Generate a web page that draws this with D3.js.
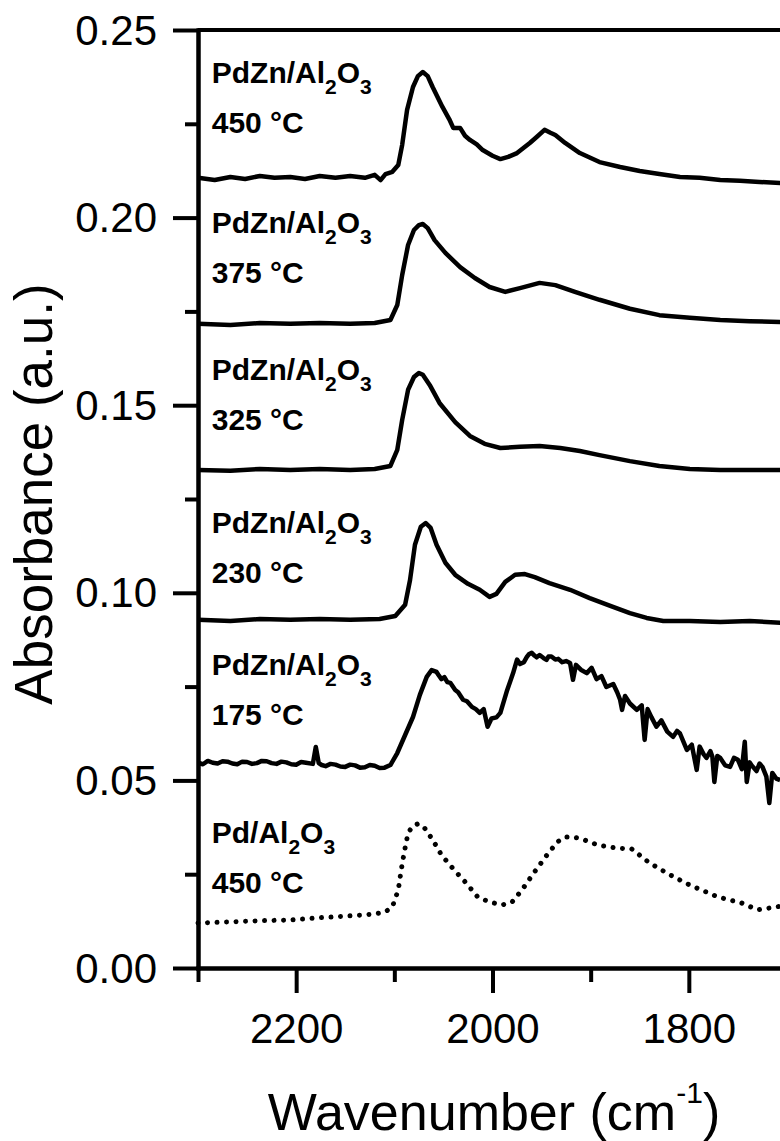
<!DOCTYPE html>
<html>
<head>
<meta charset="utf-8">
<script src="https://cdn.jsdelivr.net/npm/d3@7"></script>
<style>
	body { margin: 0; background: #fff; }
	svg { display: block; }
	text { font-family: "Liberation Sans", Arial, sans-serif; fill: #000; }
</style>
</head>
<body>
<svg id="chart" width="780" height="1141"></svg>
<script>
// === Data ===
const wnMajor = [2200, 2000, 1800];
const wnMinor = [2300, 2100, 1900, 1700];
const absMajor = [0, 0.05, 0.10, 0.15, 0.20, 0.25];
const absMinor = [0.025, 0.075, 0.125, 0.175, 0.225];

// [wavenumber, absorbance]
const pdzn450 = [[2300,0.2106],[2283,0.2100],[2267,0.2108],[2252,0.2103],[2237,0.2111],[2222,0.2106],[2206,0.2108],[2191,0.2103],[2176,0.2111],[2160,0.2106],[2145,0.2111],[2130,0.2106],[2120,0.2114],[2114,0.2100],[2109,0.2116],[2102,0.2122],[2096,0.2140],[2092,0.2194],[2087,0.2287],[2081,0.2348],[2076,0.2377],[2071,0.2388],[2066,0.2377],[2061,0.2348],[2051,0.2295],[2044,0.2262],[2040,0.2239],[2033,0.2239],[2028,0.2218],[2023,0.2207],[2016,0.2195],[2010,0.2180],[2000,0.2165],[1992,0.2156],[1984,0.2162],[1975,0.2172],[1962,0.2199],[1955,0.2215],[1947,0.2234],[1941,0.2226],[1936,0.2220],[1926,0.2199],[1911,0.2172],[1891,0.2148],[1870,0.2135],[1850,0.2124],[1830,0.2116],[1809,0.2108],[1789,0.2106],[1768,0.2100],[1748,0.2098],[1728,0.2095],[1707,0.2092]];

const pdzn375 = [[2300,0.1717],[2267,0.1714],[2237,0.1719],[2206,0.1717],[2176,0.1719],[2145,0.1717],[2120,0.1719],[2104,0.1727],[2097,0.1767],[2092,0.1847],[2086,0.1927],[2080,0.1967],[2075,0.1980],[2071,0.1983],[2066,0.1972],[2059,0.1940],[2048,0.1906],[2033,0.1868],[2018,0.1839],[2003,0.1815],[1987,0.1802],[1972,0.1812],[1952,0.1826],[1936,0.1820],[1916,0.1802],[1891,0.1781],[1860,0.1757],[1830,0.1740],[1799,0.1733],[1768,0.1727],[1738,0.1724],[1707,0.1722]];

const pdzn325 = [[2300,0.1327],[2267,0.1325],[2237,0.1330],[2206,0.1327],[2176,0.1330],[2145,0.1327],[2120,0.1330],[2104,0.1338],[2097,0.1381],[2092,0.1461],[2086,0.1541],[2080,0.1575],[2075,0.1586],[2071,0.1581],[2064,0.1554],[2054,0.1506],[2038,0.1455],[2023,0.1418],[2008,0.1397],[1992,0.1386],[1972,0.1389],[1952,0.1391],[1931,0.1386],[1911,0.1378],[1891,0.1367],[1860,0.1351],[1830,0.1338],[1799,0.1330],[1768,0.1327],[1738,0.1327],[1707,0.1327]];

const pdzn230 = [[2300,0.0928],[2267,0.0925],[2237,0.0930],[2206,0.0928],[2176,0.0930],[2145,0.0928],[2115,0.0930],[2099,0.0938],[2089,0.0968],[2084,0.1034],[2079,0.1128],[2073,0.1176],[2068,0.1186],[2063,0.1173],[2057,0.1128],[2048,0.1080],[2038,0.1048],[2025,0.1024],[2013,0.1008],[2003,0.0989],[1996,0.0997],[1987,0.1029],[1977,0.1048],[1967,0.1050],[1957,0.1042],[1942,0.1026],[1921,0.1008],[1901,0.0986],[1880,0.0965],[1860,0.0946],[1843,0.0933],[1826,0.0925],[1799,0.0925],[1768,0.0922],[1738,0.0925],[1707,0.0920]];

const pdzn175 = [[2300,0.0547],[2295,0.0543],[2290,0.0552],[2285,0.0547],[2280,0.0545],[2275,0.0551],[2270,0.0550],[2265,0.0545],[2260,0.0543],[2255,0.0550],[2250,0.0549],[2245,0.0544],[2240,0.0546],[2235,0.0552],[2230,0.0551],[2225,0.0546],[2220,0.0544],[2215,0.0550],[2210,0.0548],[2205,0.0543],[2200,0.0542],[2195,0.0549],[2190,0.0547],[2183,0.0544],[2180,0.0589],[2177,0.0546],[2174,0.0541],[2170,0.0538],[2165,0.0544],[2160,0.0542],[2155,0.0537],[2150,0.0536],[2145,0.0542],[2140,0.0540],[2135,0.0534],[2130,0.0535],[2125,0.0541],[2120,0.0539],[2115,0.0533],[2110,0.0534],[2104,0.0541],[2097,0.0573],[2089,0.0621],[2081,0.0669],[2074,0.0728],[2067,0.0776],[2062,0.0794],[2057,0.0789],[2055,0.0781],[2052,0.0770],[2049,0.0775],[2046,0.0762],[2043,0.0760],[2038,0.0741],[2035,0.0735],[2030,0.0715],[2026,0.0711],[2021,0.0696],[2017,0.0690],[2013,0.0680],[2009,0.0690],[2005,0.0643],[2001,0.0665],[1996,0.0668],[1992,0.0680],[1985,0.0741],[1979,0.0786],[1975,0.0822],[1972,0.0810],[1968,0.0815],[1965,0.0829],[1963,0.0836],[1960,0.0840],[1957,0.0832],[1955,0.0828],[1952,0.0834],[1948,0.0826],[1945,0.0821],[1943,0.0830],[1940,0.0830],[1936,0.0822],[1933,0.0824],[1929,0.0815],[1925,0.0818],[1921,0.0813],[1918,0.0768],[1915,0.0808],[1910,0.0795],[1904,0.0786],[1899,0.0800],[1894,0.0770],[1889,0.0778],[1884,0.0749],[1877,0.0757],[1873,0.0735],[1870,0.0715],[1868,0.0688],[1865,0.0725],[1860,0.0705],[1853,0.0688],[1848,0.0700],[1845,0.0608],[1842,0.0690],[1838,0.0668],[1833,0.0643],[1828,0.0660],[1822,0.0630],[1816,0.0616],[1812,0.0632],[1809,0.0625],[1805,0.0600],[1802,0.0581],[1797,0.0595],[1792,0.0528],[1789,0.0590],[1785,0.0570],[1782,0.0560],[1778,0.0578],[1776,0.0563],[1774,0.0496],[1771,0.0565],[1768,0.0560],[1763,0.0540],[1758,0.0536],[1754,0.0560],[1750,0.0555],[1746,0.0530],[1743,0.0603],[1741,0.0496],[1738,0.0548],[1736,0.0540],[1731,0.0525],[1728,0.0545],[1725,0.0536],[1721,0.0510],[1718,0.0440],[1715,0.0520],[1711,0.0505],[1707,0.0501]];

const pd450 = [[2300,0.0120],[2267,0.0123],[2237,0.0126],[2206,0.0128],[2176,0.0134],[2145,0.0139],[2120,0.0144],[2109,0.0150],[2102,0.0163],[2096,0.0208],[2093,0.0261],[2090,0.0307],[2086,0.0360],[2081,0.0379],[2076,0.0384],[2071,0.0379],[2066,0.0362],[2061,0.0341],[2056,0.0320],[2052,0.0301],[2039,0.0261],[2027,0.0227],[2015,0.0189],[2003,0.0176],[1990,0.0168],[1980,0.0176],[1970,0.0208],[1958,0.0253],[1946,0.0296],[1934,0.0336],[1926,0.0349],[1918,0.0349],[1909,0.0344],[1893,0.0328],[1875,0.0320],[1858,0.0317],[1840,0.0280],[1819,0.0248],[1799,0.0221],[1770,0.0189],[1746,0.0173],[1730,0.0155],[1710,0.0163],[1707,0.0165]];

const sampleNames = ['PdZn/Al', 'PdZn/Al', 'PdZn/Al', 'PdZn/Al', 'PdZn/Al', 'Pd/Al'];
const sampleTemps = ['450 °C', '375 °C', '325 °C', '230 °C', '175 °C', '450 °C'];
const labelAbs = [0.2359, 0.1959, 0.1567, 0.1160, 0.0781, 0.0333]; // first-line baseline
const labelWn = 2286;

const solidSeries = [pdzn450, pdzn375, pdzn325, pdzn230, pdzn175];

// === Scales ===
const svg = d3.select('#chart');
const x = d3.scaleLinear().domain([2300, 1700]).range([198, 787]);
const y = d3.scaleLinear().domain([0, 0.25]).range([968, 30]);

// === Curves ===
const line = d3.line().x(d => x(d[0])).y(d => y(d[1]));

svg.append('g').selectAll('path').data(solidSeries).join('path')
	.attr('d', line)
	.attr('fill', 'none')
	.attr('stroke', '#000')
	.attr('stroke-width', 4.5)
	.attr('stroke-linejoin', 'round');

svg.append('path')
	.datum(pd450)
	.attr('d', line)
	.attr('fill', 'none')
	.attr('stroke', '#000')
	.attr('stroke-width', 5)
	.attr('stroke-linecap', 'round')
	.attr('stroke-dasharray', '0.01 9.5');

// === Axes ===
const styleAxis = g => {
	g.attr('font-family', null).attr('font-size', null);
	g.selectAll('path, line').attr('stroke', '#000').attr('stroke-width', 4);
	g.select('.domain').attr('stroke-linecap', 'square');
};

// top frame line
svg.append('line')
	.attr('x1', x(2300)).attr('x2', x(1700))
	.attr('y1', y(0.25)).attr('y2', y(0.25))
	.attr('stroke', '#000').attr('stroke-width', 4);

const xAxisG = svg.append('g').attr('transform', `translate(0,${y(0)})`)
	.call(d3.axisBottom(x).tickValues(wnMajor).tickSize(25).tickSizeOuter(0).tickFormat(d3.format('d')))
	.call(styleAxis);
xAxisG.selectAll('text').attr('y', 75).attr('dy', null).style('font-size', '42px');

svg.append('g').attr('transform', `translate(0,${y(0)})`)
	.call(d3.axisBottom(x).tickValues(wnMinor).tickSize(14).tickSizeOuter(0).tickFormat(''))
	.call(styleAxis);

const yAxisG = svg.append('g').attr('transform', `translate(${x(2300)},0)`)
	.call(d3.axisLeft(y).tickValues(absMajor).tickSize(25).tickSizeOuter(0).tickFormat(d3.format('.2f')))
	.call(styleAxis);
yAxisG.selectAll('text').attr('x', -41).attr('dy', '14px').style('font-size', '42px');

svg.append('g').attr('transform', `translate(${x(2300)},0)`)
	.call(d3.axisLeft(y).tickValues(absMinor).tickSize(13).tickSizeOuter(0).tickFormat(''))
	.call(styleAxis);

// Axis titles
const xTitle = svg.append('text')
	.attr('x', 494).attr('y', 1130)
	.attr('text-anchor', 'middle')
	.style('font-size', '52px');
xTitle.append('tspan').text('Wavenumber (cm');
xTitle.append('tspan').attr('dy', -27).style('font-size', '30px').text('-1');
xTitle.append('tspan').attr('dy', 27).text(')');

svg.append('text')
	.attr('transform', 'translate(52,494) rotate(-90)')
	.attr('text-anchor', 'middle')
	.style('font-size', '53px')
	.text('Absorbance (a.u.)');

// === Sample labels ===
sampleNames.forEach((name, i) => {
	const t = svg.append('text')
		.attr('x', x(labelWn)).attr('y', y(labelAbs[i]))
		.style('font-size', '30px').style('font-weight', 'bold');
	t.append('tspan').text(name);
	t.append('tspan').attr('dy', 11).style('font-size', '21px').text('2');
	t.append('tspan').attr('dy', -11).text('O');
	t.append('tspan').attr('dy', 11).style('font-size', '21px').text('3');

	svg.append('text')
		.attr('x', x(labelWn)).attr('y', y(labelAbs[i]) + 50)
		.style('font-size', '30px').style('font-weight', 'bold')
		.text(sampleTemps[i]);
});
</script>
</body>
</html>
